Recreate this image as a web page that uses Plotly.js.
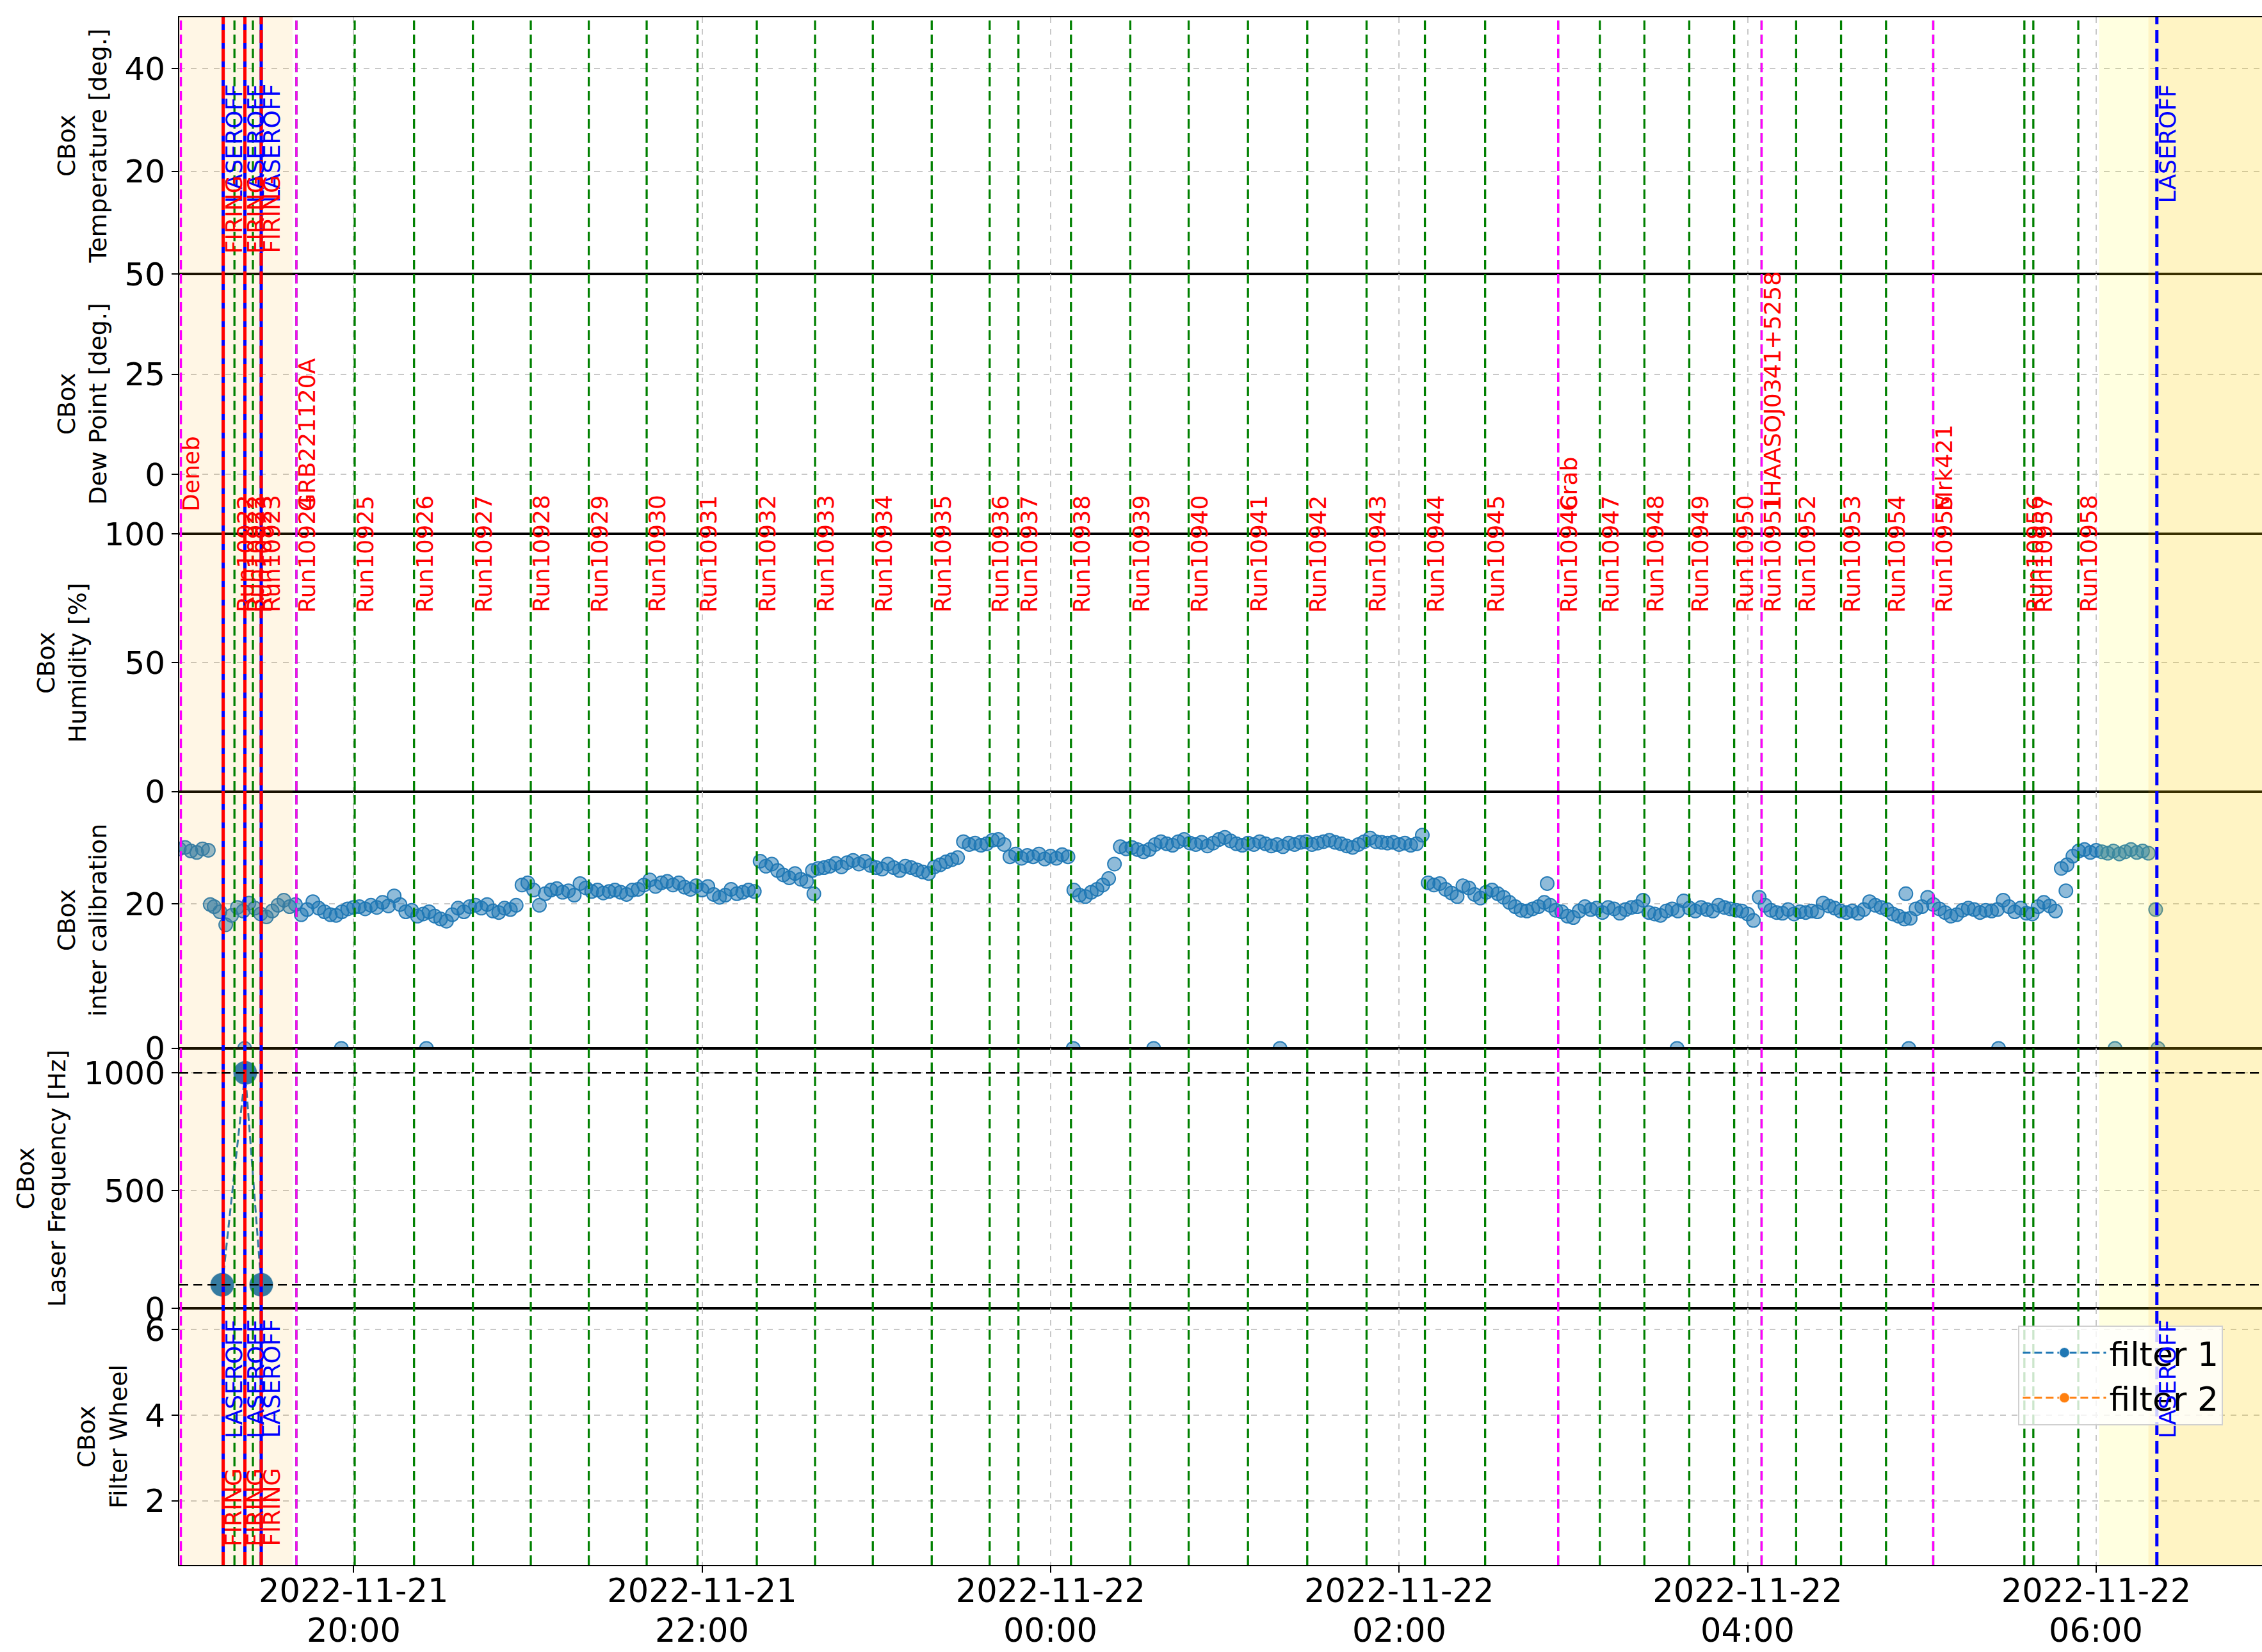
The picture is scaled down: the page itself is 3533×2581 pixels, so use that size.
<!DOCTYPE html>
<html><head><meta charset="utf-8">
<script src="https://cdn.plot.ly/plotly-3.0.1.min.js"></script>
<style>html,body{margin:0;padding:0;background:#fff;overflow:hidden}#plot{width:3533px;height:2581px}</style>
</head><body><div id="plot"></div>
<script>
// ---------- DATA ----------
const xRange = ['19:00:00', '06:57:07'];
const xTickTimes = ['20:00', '22:00', '00:00', '02:00', '04:00', '06:00'];
const xTickDates = ['2022-11-21', '2022-11-21', '2022-11-22', '2022-11-22', '2022-11-22', '2022-11-22'];
const xTickHours = ['20:00', '22:00', '00:00', '02:00', '04:00', '06:00'];

const panelTitles = ['CBox<br>Temperature [deg.]', 'CBox<br>Dew Point [deg.]', 'CBox<br>Humidity [%]',
                     'CBox<br>inter calibration', 'CBox<br>Laser Frequency [Hz]', 'CBox<br>Filter Wheel'];
const panelTicks = [[0, 20, 40], [0, 25, 50], [0, 50, 100], [0, 20], [0, 500, 1000], [2, 4, 6]];
const panelRanges = [[0, 50], [-14.8, 50], [0, 100], [0, 35.5], [0, 1104], [0.5, 6.5]];

// inter calibration series
const icTime = [
 '19:00','19:02','19:04','19:06','19:08','19:10','19:10:40','19:12','19:14','19:16','19:18','19:20','19:22','19:22:30','19:24','19:26','19:28','19:30','19:32','19:34','19:36','19:38','19:40','19:42','19:44','19:46','19:48','19:50','19:52','19:54','19:55:48','19:56','19:58',
 '20:00','20:02','20:04','20:06','20:08','20:10','20:12','20:14','20:16','20:18','20:20','20:22','20:24','20:25:06','20:26','20:28','20:30','20:32','20:34','20:36','20:38','20:40','20:42','20:44','20:46','20:48','20:50','20:52','20:54','20:56','20:58',
 '21:00','21:02','21:04','21:06','21:08','21:10','21:12','21:14','21:16','21:18','21:20','21:22','21:24','21:26','21:28','21:30','21:32','21:34','21:36','21:38','21:40','21:42','21:44','21:46','21:48','21:50','21:52','21:54','21:56','21:58',
 '22:00','22:02','22:04','22:06','22:08','22:10','22:12','22:14','22:16','22:18','22:20','22:22','22:24','22:26','22:28','22:30','22:32','22:34','22:36','22:38','22:38:30','22:40','22:42','22:44','22:46','22:48','22:50','22:52','22:54','22:56','22:58',
 '23:00','23:02','23:04','23:06','23:08','23:10','23:12','23:14','23:16','23:18','23:20','23:22','23:24','23:26','23:28','23:30','23:32','23:34','23:36','23:38','23:40','23:42','23:44','23:46','23:48','23:50','23:52','23:54','23:56','23:58',
 '00:00','00:02','00:04','00:06','00:07:48','00:08','00:10','00:12','00:14','00:16','00:18','00:20','00:22','00:24','00:26','00:28','00:30','00:32','00:34','00:35:30','00:36','00:38','00:40','00:42','00:44','00:46','00:48','00:50','00:52','00:54','00:56','00:58',
 '01:00','01:02','01:04','01:06','01:08','01:10','01:12','01:14','01:16','01:18','01:19:00','01:20','01:22','01:24','01:26','01:28','01:30','01:32','01:34','01:36','01:38','01:40','01:42','01:44','01:46','01:48','01:50','01:52','01:54','01:56','01:58',
 '02:00','02:02','02:04','02:06','02:08','02:10','02:12','02:14','02:16','02:18','02:20','02:22','02:24','02:26','02:28','02:30','02:32','02:34','02:36','02:38','02:40','02:42','02:44','02:46','02:48','02:50','02:51','02:52','02:54','02:56','02:58',
 '03:00','03:02','03:04','03:06','03:08','03:10','03:12','03:14','03:16','03:18','03:20','03:22','03:24','03:26','03:28','03:30','03:32','03:34','03:35:42','03:36','03:38','03:40','03:42','03:44','03:46','03:48','03:50','03:52','03:54','03:56','03:58',
 '04:00','04:02','04:04','04:06','04:08','04:10','04:12','04:14','04:16','04:18','04:20','04:22','04:24','04:26','04:28','04:30','04:32','04:34','04:36','04:38','04:40','04:42','04:44','04:46','04:48','04:50','04:52','04:54','04:54:30','04:55:30','04:56','04:58',
 '05:00','05:02','05:04','05:06','05:08','05:10','05:12','05:14','05:16','05:18','05:20','05:22','05:24','05:26','05:26:24','05:28','05:30','05:32','05:34','05:36','05:38','05:40','05:42','05:44','05:46','05:48','05:49:36','05:50','05:52','05:54','05:56','05:58',
 '06:00','06:02','06:04','06:06','06:06:30','06:08','06:10','06:12','06:14','06:16','06:18','06:20:30','06:21:18'
];
const icValue = [
 27.6,27.8,27.3,27.1,27.6,27.4,19.9,19.6,18.9,17.1,18.4,19.5,19.0,0,20.1,19.4,18.6,18.2,19.0,19.8,20.5,19.6,19.9,18.5,19.2,20.3,19.4,18.9,18.5,18.4,0,18.9,19.3,
 19.5,19.6,19.3,19.8,19.5,20.2,19.7,21.1,19.9,18.9,19.1,18.3,18.6,0,18.9,18.3,17.9,17.6,18.5,19.4,18.9,19.6,19.8,19.4,19.9,19.0,18.8,19.4,19.2,19.8,22.6,
 22.9,21.9,19.8,21.4,21.9,22.1,21.6,21.8,21.2,22.8,22.2,21.7,21.9,21.5,21.7,21.9,21.6,21.3,21.9,22.0,22.6,23.3,22.4,22.9,23.1,22.6,22.9,22.3,22.0,22.5,
 21.9,22.4,21.3,20.9,21.2,22.0,21.4,21.6,21.9,21.7,25.9,25.2,25.5,24.6,24.0,23.6,24.2,23.4,23.1,24.6,21.4,24.9,25.0,25.2,25.6,25.1,25.7,26.0,25.5,25.9,25.3,
 25.0,24.8,25.5,25.0,24.6,25.2,25.0,24.7,24.4,24.2,25.1,25.4,25.8,26.1,26.4,28.6,28.2,28.4,28.1,28.3,28.8,28.9,28.2,26.5,26.9,26.3,26.7,26.5,26.9,26.2,
 26.6,26.3,26.8,26.5,0,21.9,21.2,21.0,21.6,22.0,22.6,23.5,25.5,27.9,27.6,27.8,27.5,27.2,27.5,0,28.2,28.6,28.3,28.1,28.6,28.9,28.4,28.2,28.5,28.0,28.4,28.9,
 29.2,28.7,28.3,28.1,28.4,28.2,28.6,28.3,28.0,28.2,0,27.9,28.4,28.2,28.5,28.6,28.2,28.4,28.6,28.8,28.5,28.3,28.0,27.8,28.2,28.6,29.1,28.6,28.5,28.4,28.5,
 28.2,28.4,28.1,28.3,29.5,22.9,22.6,22.8,22.0,21.5,21.0,22.5,22.2,21.3,20.8,21.6,21.9,21.4,20.9,20.2,19.6,19.1,19.0,19.3,19.6,20.2,22.8,19.8,19.1,18.9,18.3,
 18.1,19.0,19.6,19.2,19.4,18.8,19.5,19.3,18.7,19.2,19.5,19.6,20.5,18.8,18.6,18.4,19.0,19.3,0,19.0,20.4,19.4,19.0,19.5,19.2,19.0,19.8,19.5,19.3,19.1,19.0,
 18.6,17.7,20.9,19.8,19.1,18.8,18.7,19.2,18.6,18.9,18.8,19.0,18.9,20.1,19.7,19.4,19.0,18.8,19.0,18.7,19.2,20.3,19.8,19.5,19.2,18.6,18.3,17.9,21.4,0,18.0,19.3,
 19.6,20.9,19.9,19.3,18.8,18.3,18.5,19.1,19.4,19.2,18.8,19.1,19.0,19.2,0,20.5,19.6,18.9,19.4,18.7,18.6,19.6,20.2,19.7,19.0,24.9,21.8,25.4,26.6,27.3,27.5,27.1,
 27.4,27.2,27.0,27.3,0,26.9,27.2,27.5,27.1,27.3,27.0,19.2,0
];

// laser frequency (filter 1 / filter 2)
const laserTime = ['19:14:48', '19:22:42', '19:28:13'];
const laserValue = [100, 1000, 100];
const filter2Time = [null];
const filter2Value = [null];
const laserRefLevels = [100, 1000];

// events
const runNames = ['Run10922','Run10922','Run10923','Run10923','Run10924','Run10925','Run10926','Run10927','Run10928','Run10929',
 'Run10930','Run10931','Run10932','Run10933','Run10934','Run10935','Run10936','Run10937','Run10938','Run10939','Run10940',
 'Run10941','Run10942','Run10943','Run10944','Run10945','Run10946','Run10947','Run10948','Run10949','Run10950','Run10951',
 'Run10952','Run10953','Run10954','Run10955','Run10956','Run10957','Run10958'];
const runTimes = ['19:19:00','19:22:36','19:25:21','19:28:13','19:40:20','20:00:24','20:20:50','20:41:06','21:01:02','21:21:00',
 '21:40:56','21:58:26','22:18:51','22:38:55','22:58:48','23:19:05','23:39:02','23:48:56','00:07:02','00:27:27','00:47:33',
 '01:07:58','01:28:23','01:48:48','02:08:54','02:29:38','02:54:46','03:09:08','03:24:28','03:39:55','03:55:23','04:04:49',
 '04:16:43','04:32:11','04:47:40','05:03:55','05:35:18','05:38:23','05:53:52'];
const sourceNames = ['Deneb', 'GRB221120A', 'Crab', '1HAASOJ0341+5258', 'Mrk421'];
const sourceTimes = ['19:00:34', '19:40:20', '02:54:46', '04:04:49', '05:03:55'];
const firingTimes = ['19:15:07', '19:22:36', '19:28:13'];
const laserOffTimes = ['19:15:07', '19:22:36', '19:28:13', '06:20:55'];
const twilightStart = ['18:50:00', '06:01:00', '06:18:00'];
const twilightEnd = ['19:39:00', '07:10:00', '07:10:00'];
const twilightColor = ['rgba(255,165,0,0.1)', 'rgba(255,255,0,0.12)', 'rgba(255,165,0,0.12)'];

// ---------- HELPERS ----------
function ts(hm) {
  if (hm === null) return null;
  const h = parseInt(hm.slice(0, 2), 10);
  return (h >= 12 ? '2022-11-21 ' : '2022-11-22 ') + (hm.length === 5 ? hm + ':00' : hm);
}
const FONT = 'DejaVu Sans';
const doms = [[0.83416, 1], [0.66625, 0.83416], [0.49959, 0.66625], [0.33375, 0.49959], [0.16584, 0.33375], [0, 0.16584]];
const ax = p => (p === 1 ? '' : String(p));

// ---------- LAYOUT ----------
const layout = {
  width: 3533, height: 2581,
  margin: {l: 280, r: 0, t: 27, b: 136},
  paper_bgcolor: '#ffffff', plot_bgcolor: '#ffffff',
  font: {family: FONT, color: '#000'},
  showlegend: true,
  legend: {x: 0.883, y: 0.1547, xanchor: 'left', yanchor: 'top',
           bgcolor: 'rgba(255,255,255,0.8)', bordercolor: '#d0d0d0', borderwidth: 2,
           font: {family: FONT, size: 52, color: '#000'}, itemwidth: 130},
  shapes: [], annotations: []
};

for (let p = 1; p <= 6; p++) {
  const xa = {
    type: 'date', range: xRange.map(ts), domain: [0, 1], anchor: 'y' + ax(p),
    tickmode: 'array', tickvals: xTickTimes.map(ts), ticktext: xTickDates,
    showgrid: true, gridcolor: '#c8c8c8', griddash: 'dash', gridwidth: 2,
    showline: true, mirror: true, linecolor: '#000', linewidth: 2, zeroline: false,
  };
  if (p === 6) {
    Object.assign(xa, {ticks: 'outside', ticklen: 10, tickwidth: 2, tickcolor: '#000',
      showticklabels: true, ticklabelstandoff: -15, tickfont: {family: FONT, size: 51, color: '#000'}});
  } else {
    Object.assign(xa, {matches: 'x6', showticklabels: false, ticks: ''});
  }
  layout['xaxis' + ax(p)] = xa;
  layout['yaxis' + ax(p)] = {
    domain: doms[p - 1], anchor: 'x' + ax(p), range: panelRanges[p - 1],
    tickmode: 'array', tickvals: panelTicks[p - 1],
    ticks: 'outside', ticklen: 10, tickwidth: 2, tickcolor: '#000',
    tickfont: {family: FONT, size: 50, color: '#000'},
    showgrid: true, gridcolor: '#c8c8c8', griddash: 'dash', gridwidth: 2,
    showline: true, linecolor: '#000', linewidth: 2, zeroline: false,
    title: {text: panelTitles[p - 1], font: {family: FONT, size: 38, color: '#000'}, standoff: 16}
  };
}

// second line of the date tick labels (hour)
xTickTimes.forEach((t, i) => layout.annotations.push({text: xTickHours[i], x: ts(t), xref: 'x6', y: 0, yref: 'paper',
  xanchor: 'center', yanchor: 'middle', yshift: -102, showarrow: false,
  font: {family: FONT, size: 51, color: '#000'}}));

// twilight shading
for (let i = 0; i < twilightStart.length; i++) {
  layout.shapes.push({type: 'rect', xref: 'x6', yref: 'paper', x0: ts(twilightStart[i]), x1: ts(twilightEnd[i]),
    y0: 0, y1: 1, fillcolor: twilightColor[i], line: {width: 0}, layer: 'above'});
}
// run lines
runTimes.forEach(t => layout.shapes.push({type: 'line', xref: 'x6', yref: 'paper', x0: ts(t), x1: ts(t), y0: 0, y1: 1,
  line: {color: '#008000', width: 3.3, dash: '15px,7px'}, layer: 'above'}));
// source lines
sourceTimes.forEach(t => layout.shapes.push({type: 'line', xref: 'x6', yref: 'paper', x0: ts(t), x1: ts(t), y0: 0, y1: 1,
  line: {color: '#ff00ff', width: 3.3, dash: '15px,7px'}, layer: 'above'}));
// laser off lines
laserOffTimes.forEach(t => {
  const paired = firingTimes.indexOf(t) >= 0;
  layout.shapes.push({type: 'line', xref: 'x6', yref: 'paper', x0: ts(t), x1: ts(t), y0: 0, y1: 1,
    line: {color: '#0000ff', width: 5, dash: paired ? 'solid' : '20px,9px'}, layer: 'above'});
});
// firing lines
firingTimes.forEach(t => layout.shapes.push({type: 'line', xref: 'x6', yref: 'paper', x0: ts(t), x1: ts(t), y0: 0, y1: 1,
  line: {color: '#ff0000', width: 5, dash: '20px,9px'}, layer: 'above'}));
// laser frequency reference levels
laserRefLevels.forEach(v => layout.shapes.push({type: 'line', xref: 'paper', yref: 'y5', x0: 0, x1: 1, y0: v, y1: v,
  line: {color: '#000', width: 2.5, dash: '14px,8px'}, layer: 'above'}));

// text labels
function vlabel(text, t, yref, y, color) {
  layout.annotations.push({text: text, x: ts(t), xref: 'x6', y: y, yref: yref, xanchor: 'left', yanchor: 'bottom',
    textangle: -90, showarrow: false, xshift: -5, borderpad: 0,
    font: {family: FONT, size: 36, color: color}});
}
runNames.forEach((n, i) => vlabel(n, runTimes[i], 'y3 domain', 0.692, '#ff0000'));
sourceNames.forEach((n, i) => vlabel(n, sourceTimes[i], 'y2 domain', 0.084, '#ff0000'));
laserOffTimes.forEach(t => { vlabel('LASEROFF', t, 'y domain', 0.274, '#0000ff'); vlabel('LASEROFF', t, 'y6 domain', 0.491, '#0000ff'); });
firingTimes.forEach(t => { vlabel('FIRING', t, 'y domain', 0.077, '#ff0000'); vlabel('FIRING', t, 'y6 domain', 0.07, '#ff0000'); });

// ---------- TRACES ----------
const traces = [];
// empty holders so that every panel's axes are drawn
[1, 2, 3, 6].forEach(p => traces.push({type: 'scatter', mode: 'markers', x: [null], y: [null],
  xaxis: 'x' + ax(p), yaxis: 'y' + ax(p), showlegend: false, hoverinfo: 'skip'}));
traces.push(
  {type: 'scatter', mode: 'markers', x: icTime.map(ts), y: icValue, xaxis: 'x4', yaxis: 'y4', showlegend: false,
   marker: {size: 21, color: 'rgba(31,119,180,0.5)', line: {color: 'rgba(31,119,180,0.95)', width: 2}}},
  {type: 'scatter', mode: 'lines+markers', name: 'filter 1', x: laserTime.map(ts), y: laserValue, xaxis: 'x5', yaxis: 'y5',
   line: {color: '#1f77b4', width: 3, dash: '12px,6px'},
   marker: {size: 38, color: '#1f77b4', line: {color: 'rgba(255,255,255,0.7)', width: 1.5}}},
  {type: 'scatter', mode: 'lines+markers', name: 'filter 2', x: filter2Time.map(ts), y: filter2Value, xaxis: 'x5', yaxis: 'y5',
   line: {color: '#ff7f0e', width: 3, dash: '12px,6px'},
   marker: {size: 38, color: '#ff7f0e', line: {color: 'rgba(255,255,255,0.7)', width: 1.5}}}
);

Plotly.newPlot('plot', traces, layout, {displayModeBar: false, staticPlot: true});
</script></body></html>
